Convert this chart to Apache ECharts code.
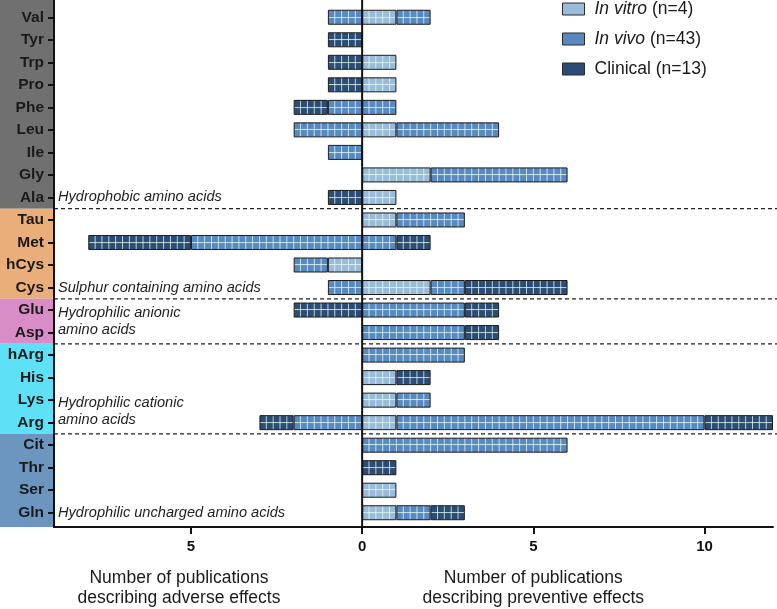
<!DOCTYPE html>
<html>
<head>
<meta charset="utf-8">
<script src="https://cdn.jsdelivr.net/npm/echarts@6/dist/echarts.min.js"></script>
<style>
  html, body { margin: 0; padding: 0; background: #fff; }
  #main { width: 777px; height: 609px; }
</style>
</head>
<body>
<div id="main"></div>
<script>
const categories = ['Val', 'Tyr', 'Trp', 'Pro', 'Phe', 'Leu', 'Ile', 'Gly', 'Ala',
  'Tau', 'Met', 'hCys', 'Cys', 'Glu', 'Asp', 'hArg', 'His', 'Lys', 'Arg',
  'Cit', 'Thr', 'Ser', 'Gln'];

// adverse effects (drawn to the left of 0)
const adverseInVitro   = [0, 0, 0, 0, 0, 0, 0, 0, 0, 0, 0, 1, 0, 0, 0, 0, 0, 0, 0, 0, 0, 0, 0];
const adverseInVivo    = [1, 0, 0, 0, 1, 2, 1, 0, 0, 0, 5, 1, 1, 0, 0, 0, 0, 0, 2, 0, 0, 0, 0];
const adverseClinical  = [0, 1, 1, 1, 1, 0, 0, 0, 1, 0, 3, 0, 0, 2, 0, 0, 0, 0, 1, 0, 0, 0, 0];
// preventive effects (drawn to the right of 0)
const preventInVitro   = [1, 0, 1, 1, 0, 1, 0, 2, 1, 1, 0, 0, 2, 0, 0, 0, 1, 1, 1, 0, 0, 1, 1];
const preventInVivo    = [1, 0, 0, 0, 1, 3, 0, 4, 0, 2, 1, 0, 1, 3, 3, 3, 0, 1, 9, 6, 0, 0, 1];
const preventClinical  = [0, 0, 0, 0, 0, 0, 0, 0, 0, 0, 1, 0, 3, 1, 1, 0, 1, 0, 2, 0, 1, 0, 1];

const legendNames = ['In vitro', 'In vivo', 'Clinical'];
const legendCounts = [4, 43, 13];
const xTicks = [-5, 0, 5, 10];

const groupFirst = ['Val', 'Tau', 'Glu', 'hArg', 'Cit'];
const groupLast = ['Ala', 'Cys', 'Asp', 'Arg', 'Gln'];
const groupLabels = ['Hydrophobic amino acids', 'Sulphur containing amino acids',
  'Hydrophilic anionic\namino acids', 'Hydrophilic cationic\namino acids',
  'Hydrophilic uncharged amino acids'];
const groupLabelRows = [['Ala'], ['Cys'], ['Glu', 'Asp'], ['Lys', 'Arg'], ['Gln']];

const axisNames = ['Number of publications\ndescribing adverse effects',
  'Number of publications\ndescribing preventive effects'];

// styles
const FONT = "'Liberation Sans', Arial, sans-serif";
const fills = ['#9bbbdb', '#5889c2', '#2c4c75'];
const bandColors = ['#707070', '#e9ae79', '#d98dc6', '#5ee1f6', '#6c95bf'];
const GRID = { left: 54, right: 4, top: 6, bottom: 85 };
const AXIS_OFFSET = 3;

const chart = echarts.init(document.getElementById('main'));

function makeSeries(name, values, sign, fill) {
  return {
    name: name,
    type: 'bar',
    stack: 'total',
    barWidth: 15,
    silent: true,
    emphasis: { disabled: true },
    data: values.map((v) => (v ? sign * v : '-')),
    itemStyle: { color: fill, borderColor: '#1c1c1c', borderWidth: 1 },
  };
}

const leftData = [adverseInVitro, adverseInVivo, adverseClinical];
const rightData = [preventInVitro, preventInVivo, preventClinical];

function buildSeries(colors) {
  const list = [];
  leftData.forEach((d, i) => list.push(makeSeries(legendNames[i], d, -1, colors[i])));
  rightData.forEach((d, i) => list.push(makeSeries(legendNames[i], d, 1, colors[i])));
  return list;
}

chart.setOption({
  animation: false,
  grid: GRID,
  legend: {
    orient: 'vertical',
    left: 557,
    top: -5,
    icon: 'rect',
    itemWidth: 22,
    itemHeight: 12,
    itemGap: 12,
    selectedMode: false,
    data: legendNames.map((n, i) => ({
      name: n,
      itemStyle: { color: fills[i], borderColor: '#2a2a2a', borderWidth: 1 },
    })),
    formatter: (name) => {
      const i = legendNames.indexOf(name);
      if (name === 'Clinical') return `${name} (n=${legendCounts[i]})`;
      return `{it|${name}} (n=${legendCounts[i]})`;
    },
    textStyle: {
      fontFamily: FONT,
      fontSize: 17.5,
      color: '#1a1a1a',
      padding: [0, 0, 0, 5],
      rich: {
        it: { fontFamily: FONT, fontSize: 17.5, fontStyle: 'italic', color: '#1a1a1a' },
      },
    },
  },
  xAxis: {
    type: 'value',
    min: -9,
    max: 12,
    offset: AXIS_OFFSET,
    splitLine: { show: false },
    axisLine: { show: true, onZero: false, lineStyle: { color: '#111', width: 2 } },
    axisTick: { show: true, customValues: xTicks, length: 7, lineStyle: { color: '#111', width: 2 } },
    axisLabel: {
      customValues: xTicks,
      formatter: (v) => String(Math.abs(v)),
      fontFamily: FONT,
      fontWeight: 'bold',
      fontSize: 15,
      color: '#111',
      margin: 12,
    },
  },
  yAxis: {
    type: 'category',
    data: categories,
    inverse: true,
    z: 8,
    axisLine: { show: false, onZero: false },
    axisTick: { show: true, alignWithLabel: true, length: 6, lineStyle: { color: '#111', width: 2 } },
    axisLabel: {
      fontFamily: FONT,
      fontWeight: 'bold',
      fontSize: 15.5,
      color: '#1a1a1a',
      margin: 10,
    },
  },
  series: buildSeries(fills),
});

// grid-like hatching inside the bars (white lines, 5 cells per unit, one mid line per bar)
const x0 = chart.convertToPixel({ xAxisIndex: 0 }, 0);
const unitPx = chart.convertToPixel({ xAxisIndex: 0 }, 1) - x0;
const rowA = chart.convertToPixel({ yAxisIndex: 0 }, categories[0]);
const rowB = chart.convertToPixel({ yAxisIndex: 0 }, categories[1]);
const rowStep = rowB - rowA;

function makePattern(fill) {
  const h = Math.round(rowStep * 2);
  const c = document.createElement('canvas');
  c.width = 35;
  c.height = h;
  const g = c.getContext('2d');
  g.fillStyle = fill;
  g.fillRect(0, 0, 35, h);
  g.fillStyle = 'rgba(226, 255, 244, 0.78)';
  for (let k = 0; k < 5; k++) g.fillRect(k * 7, 0, 1, h);
  g.fillRect(0, Math.floor(rowA) % h, 35, 1);
  g.fillRect(0, Math.floor(rowB) % h, 35, 1);
  return { image: c, repeat: 'repeat', x: x0 - 0.5, y: 0, scaleX: unitPx / 35, scaleY: 1 };
}

const patterns = fills.map(makePattern);

const yPx = (c) => chart.convertToPixel({ yAxisIndex: 0 }, c);
const xPx = (v) => chart.convertToPixel({ xAxisIndex: 0 }, v);
const axisY = chart.getHeight() - GRID.bottom + AXIS_OFFSET;

const elements = [];

// coloured category bands behind the labels
groupFirst.forEach((first, i) => {
  const top = i === 0 ? 0 : yPx(first) - rowStep / 2;
  const bottom = i === groupFirst.length - 1 ? axisY : yPx(groupLast[i]) + rowStep / 2;
  elements.push({
    type: 'rect', z: -10, silent: true,
    shape: { x: 0, y: top, width: GRID.left, height: bottom - top },
    style: { fill: bandColors[i] },
  });
});

// dashed separators between groups
for (let i = 0; i < groupLast.length - 1; i++) {
  const y = (yPx(groupLast[i]) + yPx(groupFirst[i + 1])) / 2;
  elements.push({
    type: 'line', z: 5, silent: true,
    shape: { x1: GRID.left, y1: y, x2: chart.getWidth(), y2: y },
    style: { stroke: '#222', lineWidth: 1.2, lineDash: [4, 3] },
  });
}

// left frame line and zero line
[GRID.left, x0].forEach((x) => {
  elements.push({
    type: 'line', z: 20, silent: true,
    shape: { x1: x, y1: 0, x2: x, y2: axisY + 1 },
    style: { stroke: '#111', lineWidth: 2 },
  });
});

// group names
groupLabels.forEach((txt, i) => {
  const rows = groupLabelRows[i];
  const y = rows.reduce((s, r) => s + yPx(r), 0) / rows.length;
  elements.push({
    type: 'text', z: 10, silent: true,
    x: GRID.left + 4, y: y,
    style: {
      text: txt, fill: '#1e1e1e', font: `italic 14.6px ${FONT}`,
      lineHeight: 16.5, verticalAlign: 'middle', align: 'left',
    },
  });
});

// axis titles
[xPx(-5.35), xPx(5)].forEach((x, i) => {
  elements.push({
    type: 'text', z: 10, silent: true,
    x: x, y: 568,
    style: {
      text: axisNames[i], fill: '#1a1a1a', font: `17.5px ${FONT}`,
      lineHeight: 20, align: 'center', verticalAlign: 'top',
    },
  });
});

chart.setOption({
  series: buildSeries(patterns),
  graphic: { elements: elements },
});
</script>
</body>
</html>
